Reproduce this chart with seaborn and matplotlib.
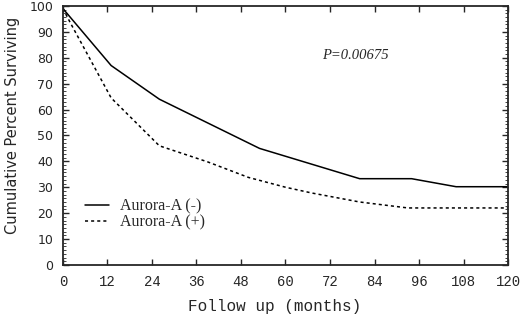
import pandas as pd
import seaborn as sns
import matplotlib.pyplot as plt
from matplotlib.ticker import MultipleLocator, AutoMinorLocator

# survival curves (months, % surviving)
neg_months = [0, 13, 26, 53, 80, 94, 106, 120]
neg_surv = [99, 77, 64, 45, 33.3, 33.3, 30.2, 30.2]
pos_months = [0, 2, 13, 26, 39, 50, 60, 67, 80, 93, 120]
pos_surv = [99, 93.5, 64.5, 46, 39.8, 33.8, 30, 27.8, 24.3, 22, 22]

groups = ["Aurora-A (-)", "Aurora-A (+)"]
p_text = "P=0.00675"

df = pd.concat([
    pd.DataFrame({"month": neg_months, "surv": neg_surv, "group": groups[0]}),
    pd.DataFrame({"month": pos_months, "surv": pos_surv, "group": groups[1]}),
])

sns.set_style("ticks")
fig = plt.figure(figsize=(5.2, 3.15), dpi=100)
ax = fig.add_axes([0.121, 0.159, 0.856, 0.822])

sns.lineplot(data=df, x="month", y="surv", style="group", color="black",
             dashes={groups[0]: "", groups[1]: (2, 2)}, linewidth=1.1,
             estimator=None, sort=False, ax=ax)

ax.set_xlim(0, 120)
ax.set_ylim(0, 100)
ax.xaxis.set_major_locator(MultipleLocator(12))
ax.yaxis.set_major_locator(MultipleLocator(10))
ax.yaxis.set_minor_locator(AutoMinorLocator(7))
ax.tick_params(direction="in", top=True, right=True, length=4, width=1)
ax.tick_params(axis="x", pad=7)
ax.tick_params(axis="y", pad=7)
ax.tick_params(which="minor", direction="in", left=True, right=True, length=2)
for s in ax.spines.values():
    s.set_linewidth(1.3)

for lab in ax.get_xticklabels():
    lab.set_family("Liberation Mono")
    lab.set_fontsize(10)
for lab in ax.get_yticklabels():
    lab.set_family("DejaVu Sans")
    lab.set_fontsize(9)

ax.set_xlabel("Follow up (months)", family="Liberation Mono", fontsize=11.5)
ax.xaxis.set_label_coords(0.476, -0.13)
ax.set_ylabel("Cumulative Percent Surviving", family="DejaVu Sans", fontsize=10.5)
ax.yaxis.set_label_coords(-0.097, 0.537)

ax.text(70, 81, p_text, family="Liberation Serif", style="italic", fontsize=10.5,
        va="center", ha="left")

ax.legend(loc="center left", bbox_to_anchor=(0.036, 0.195), frameon=False,
          borderaxespad=0, prop={"family": "Liberation Serif", "size": 11.5},
          handlelength=1.5, handletextpad=0.65, labelspacing=0.0)

fig.savefig("out.png", dpi=100)
